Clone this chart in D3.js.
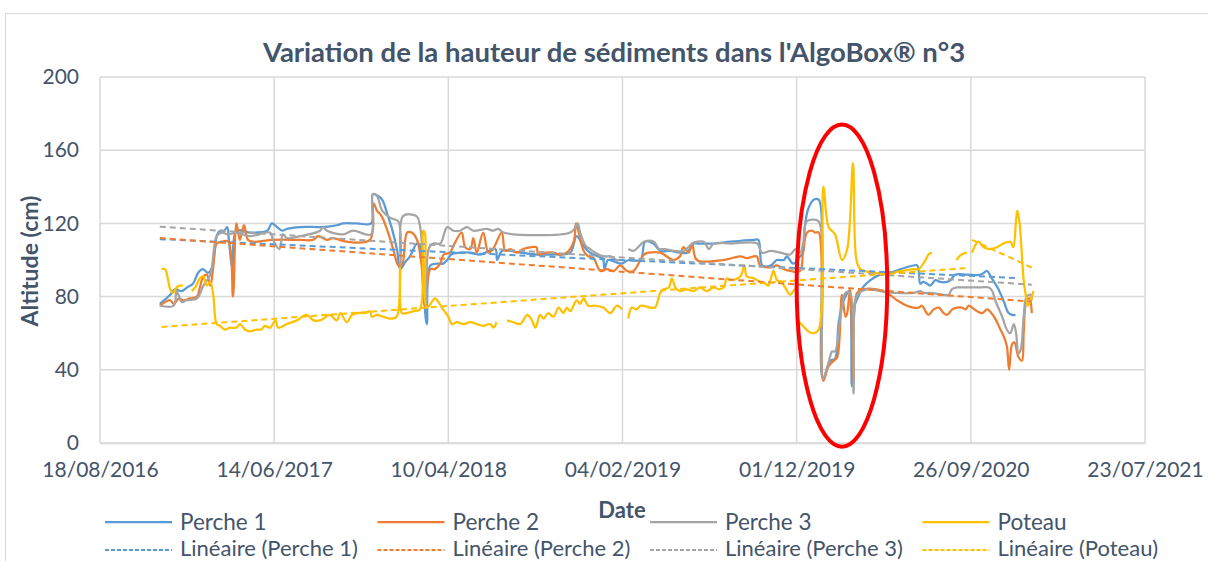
<!DOCTYPE html>
<html>
<head>
<meta charset="utf-8">
<script src="https://cdn.jsdelivr.net/npm/d3@7"></script>
<style>
body{margin:0;background:#fff;}
svg text{font-family:Lato,"Open Sans",sans-serif;fill:#44546A;}
</style>
</head>
<body>
<script>
// dates are Excel serial numbers (days since 30/12/1899), values in cm
var perche1 = [
[42703,76],[42721,81],[42729,84],[42741,83],[42750,85],[42760,87],[42769,93],[42777,95],[42786,93],[42793,96],[42802,114],[42807,116],[42814,116],[42819,118],[42822,111],[42828,95],[42835,116],[42858,115],[42888,116],[42896,120],[42905,118],[42914,116],[42922,117],[42945,118],[42974,118],[42984,118],[43008,119],[43019,120],[43043,120],[43067,120],[43070,136],[43079,135],[43086,133],[43095,125],[43103,117],[43112,105],[43117,95],[43126,99],[43134,102],[43146,109],[43151,108],[43157,83],[43163,65],[43169,97],[43181,98],[43191,98],[43198,100],[43205,103],[43220,104],[43238,104],[43255,103],[43281,106],[43284,100],[43293,105],[43324,104],[43353,103],[43381,103],[43410,104],[43421,113],[43432,108],[43444,104],[43458,102],[43466,101],[43469,95],[43475,100],[43487,99],[43498,98],[43511,100],[43531,100],[43539,110],[43553,109],[43565,105],[43582,105],[43599,104],[43611,104],[43623,109],[43632,109],[43657,109],[43686,110],[43726,111],[43734,111],[43741,97],[43755,97],[43766,100],[43778,100],[43783,102],[43794,98],[43806,102],[43811,104],[43814,118],[43820,128],[43830,133],[43838,133],[43845,35],[43858,45],[43866,46],[43872,65],[43878,75],[43884,80],[43890,83],[43895,31],[43900,75],[43906,80],[43914,85],[43927,89],[43944,92],[43961,93],[43979,95],[44001,97],[44008,97],[44013,87],[44018,88],[44025,87],[44030,86],[44039,89],[44047,88],[44059,88],[44065,89],[44073,92],[44094,92],[44117,92],[44128,94],[44134,91],[44146,85],[44156,78],[44165,71],[44171,70],[44177,70]
];
var perche2 = [
[42703,75],[42721,78],[42727,76],[42736,79],[42743,78],[42755,79],[42767,80],[42772,85],[42778,91],[42784,92],[42790,86],[42795,96],[42801,109],[42810,110],[42821,110],[42829,80],[42835,120],[42841,111],[42848,119],[42855,111],[42864,110],[42898,111],[42945,111],[42967,111],[42976,113],[42991,111],[43001,112],[43025,110],[43065,111],[43071,131],[43077,127],[43085,124],[43094,117],[43105,106],[43114,97],[43120,97],[43129,115],[43137,115],[43146,111],[43154,97],[43160,75],[43169,95],[43177,95],[43186,98],[43192,103],[43203,104],[43209,108],[43223,115],[43229,107],[43238,106],[43243,112],[43249,104],[43260,115],[43269,104],[43277,106],[43292,115],[43298,105],[43307,106],[43318,104],[43329,106],[43344,107],[43352,107],[43355,103],[43370,104],[43381,104],[43393,103],[43404,104],[43416,110],[43420,120],[43424,116],[43433,105],[43441,102],[43450,101],[43462,94],[43473,95],[43485,94],[43496,97],[43508,94],[43519,94],[43531,100],[43537,103],[43545,104],[43565,104],[43588,100],[43599,102],[43605,107],[43614,104],[43620,109],[43628,100],[43674,100],[43703,102],[43714,101],[43731,102],[43737,97],[43755,96],[43766,97],[43778,95],[43789,94],[43806,94],[43811,105],[43818,115],[43826,116],[43832,115],[43838,115],[43846,34],[43855,42],[43864,45],[43870,47],[43878,81],[43884,69],[43887,71],[43892,84],[43898,33],[43904,82],[43915,84],[43938,84],[43956,82],[43973,78],[43990,75],[44001,74],[44010,74],[44016,75],[44022,72],[44027,70],[44036,73],[44045,74],[44053,71],[44059,70],[44068,73],[44076,74],[44085,74],[44091,73],[44096,75],[44102,74],[44111,72],[44120,71],[44128,73],[44140,69],[44151,62],[44157,58],[44162,53],[44166,40],[44171,54],[44175,55],[44182,47],[44188,45],[44191,60],[44196,78],[44201,79],[44205,71]
];
var perche3 = [
[42703,75],[42727,75],[42732,83],[42741,77],[42749,78],[42767,79],[42778,86],[42790,92],[42801,113],[42810,115],[42821,114],[42835,115],[42858,113],[42893,115],[42898,111],[42909,106],[42915,114],[42922,112],[42945,113],[42979,116],[42984,118],[42991,116],[43019,114],[43036,116],[43067,114],[43070,136],[43077,135],[43086,127],[43100,123],[43114,121],[43118,97],[43122,124],[43145,124],[43151,119],[43157,94],[43162,75],[43166,106],[43174,109],[43186,109],[43198,118],[43209,116],[43220,116],[43232,118],[43243,116],[43266,117],[43277,116],[43286,117],[43295,115],[43410,115],[43419,118],[43423,120],[43427,115],[43436,108],[43444,106],[43453,104],[43467,102],[43479,102],[43490,100],[43496,100],[43503,null],[43510,106],[43519,105],[43527,107],[43537,110],[43554,110],[43563,106],[43572,106],[43589,105],[43606,105],[43620,109],[43629,110],[43640,110],[43649,106],[43657,109],[43686,109],[43732,109],[43740,104],[43755,105],[43772,104],[43789,103],[43798,106],[43806,104],[43811,109],[43817,121],[43826,122],[43838,121],[43845,35],[43855,44],[43861,50],[43866,50],[43875,68],[43884,82],[43892,82],[43898,27],[43901,78],[43907,82],[43921,84],[43944,83],[43973,82],[44001,82],[44013,83],[44019,82],[44030,82],[44053,81],[44062,81],[44067,84],[44076,85],[44087,85],[44117,85],[44131,85],[44137,83],[44142,78],[44154,69],[44162,62],[44168,60],[44174,65],[44178,60],[44182,49],[44186,51],[44191,69],[44196,80],[44203,81],[44205,78]
];
var poteau = [
[42706,95],[42712,95],[42721,84],[42726,82],[42732,85],[42738,86],[42743,86],[42750,null],[42758,83],[42764,85],[42772,90],[42778,91],[42784,86],[42790,88],[42795,81],[42801,65],[42807,64],[42815,62],[42824,63],[42835,63],[42841,65],[42850,62],[42858,61],[42870,62],[42878,62],[42884,64],[42893,63],[42902,67],[42907,63],[42922,65],[42939,67],[42956,70],[42968,67],[42979,67],[42985,68],[42996,70],[43008,67],[43014,71],[43025,66],[43034,70],[43045,71],[43057,71],[43065,72],[43068,69],[43077,70],[43088,69],[43100,68],[43111,69],[43117,96],[43120,71],[43128,71],[43140,72],[43151,73],[43157,116],[43160,114],[43163,74],[43177,79],[43183,77],[43191,73],[43200,69],[43206,65],[43215,66],[43226,65],[43238,66],[43249,65],[43260,64],[43272,65],[43278,63],[43283,66],[43292,null],[43301,67],[43312,66],[43324,65],[43336,70],[43344,67],[43350,63],[43358,70],[43364,68],[43372,71],[43381,69],[43390,74],[43398,71],[43404,74],[43410,72],[43421,78],[43427,76],[43433,79],[43441,75],[43453,75],[43467,74],[43479,71],[43490,75],[43499,73],[43505,null],[43510,68],[43516,74],[43524,73],[43531,75],[43548,74],[43556,74],[43565,82],[43571,84],[43580,85],[43585,90],[43591,85],[43599,83],[43611,84],[43622,83],[43634,85],[43645,83],[43657,85],[43666,84],[43674,85],[43680,90],[43686,89],[43703,91],[43710,97],[43714,91],[43726,90],[43737,88],[43746,87],[43751,86],[43760,94],[43766,89],[43774,88],[43780,85],[43789,81],[43797,84],[43803,67],[43811,64],[43820,61],[43829,60],[43838,62],[43846,140],[43855,118],[43866,114],[43878,100],[43887,106],[43897,153],[43903,100],[43910,95],[43933,93],[43961,93],[44001,95],[44010,95],[44022,100],[44027,103],[44033,104],[44050,null],[44075,100],[44084,103],[44093,104]
];
// last stretch of the poteau, which carries its own trend line
var poteau2 = [
[44102,104],[44113,110],[44122,107],[44134,106],[44145,107],[44156,109],[44168,110],[44173,107],[44178,122],[44180,127],[44184,120],[44191,89],[44196,78],[44198,75],[44203,78],[44208,83]
];

var seriesNames = ["Perche 1", "Perche 2", "Perche 3", "Poteau"];
var colors = ["#5B9BD5", "#ED7D31", "#A5A5A5", "#FFC000"];
// "Linéaire" trend lines: value at the first and at the last date of each series
var trendStart = [111.4, 112, 118.2, 63.4, 111];
var trendEnd = [90.2, 77.3, 86.5, 95.6, 95.4];
var xTicks = [42600, 42900, 43200, 43500, 43800, 44100, 44400];
var yTicks = [0, 40, 80, 120, 160, 200];
// red circle drawn on the chart: centre date, centre value, half-width in days, half-height in cm
var highlight = {date: 43878, value: 86, days: 78, cm: 88};

var width = 1208, height = 561;
var svg = d3.select("body").append("svg").attr("width", width).attr("height", height);

// chart frame
svg.append("rect").attr("x", 5.5).attr("y", 13.5).attr("width", 1300).attr("height", 700)
    .attr("fill", "none").attr("stroke", "#D9D9D9").attr("stroke-width", 1);

var x = d3.scaleLinear().domain([42600, 44400]).range([100, 1145]);
var y = d3.scaleLinear().domain([0, 200]).range([443, 77]);

function serialToDate(s){
    return new Date(Date.UTC(1899, 11, 30) + s * 864e5);
}
var fmt = d3.utcFormat("%d/%m/%Y");

// grid
svg.append("g").selectAll("line").data(yTicks).enter().append("line")
    .attr("x1", 100).attr("x2", 1145).attr("y1", d => y(d)).attr("y2", d => y(d))
    .attr("stroke", "#D9D9D9").attr("stroke-width", 1.5);
svg.append("g").selectAll("line").data(xTicks).enter().append("line")
    .attr("x1", d => x(d)).attr("x2", d => x(d)).attr("y1", 77).attr("y2", 443)
    .attr("stroke", "#D9D9D9").attr("stroke-width", 1.5);

// axes
var yAxis = svg.append("g").attr("transform", "translate(100,0)")
    .call(d3.axisLeft(y).tickValues(yTicks).tickSize(0).tickPadding(21));
yAxis.select(".domain").remove();
yAxis.selectAll("text").style("font-size", "21px").attr("fill", "#44546A");

var xAxis = svg.append("g").attr("transform", "translate(0,443)")
    .call(d3.axisBottom(x).tickValues(xTicks).tickSize(0).tickPadding(19)
        .tickFormat(d => fmt(serialToDate(d))));
xAxis.select(".domain").attr("stroke", "#D9D9D9").attr("stroke-width", 1.5);
xAxis.selectAll("text").style("font-size", "21px").attr("fill", "#44546A");

// data lines
var line = d3.line()
    .defined(d => d[1] != null)
    .x(d => x(d[0])).y(d => y(d[1]))
    .curve(d3.curveCatmullRom);

var allSeries = [perche1, perche2, perche3, poteau];
allSeries.forEach(function(s, i){
    svg.append("path").datum(s).attr("d", line)
        .attr("fill", "none").attr("stroke", colors[i]).attr("stroke-width", 2.25)
        .attr("stroke-linejoin", "round");
});
svg.append("path").datum(poteau2).attr("d", line)
    .attr("fill", "none").attr("stroke", colors[3]).attr("stroke-width", 2.25);

// trend lines, spanning the dates of their series
var trendSeries = [perche1, perche2, perche3, poteau, poteau2];
var trendColors = [colors[0], colors[1], colors[2], colors[3], colors[3]];
var straight = d3.line().x(d => x(d[0])).y(d => y(d[1]));
trendSeries.forEach(function(s, i){
    var ext = d3.extent(s, d => d[0]);
    svg.append("path").datum([[ext[0], trendStart[i]], [ext[1], trendEnd[i]]]).attr("d", straight)
        .attr("fill", "none").attr("stroke", trendColors[i]).attr("stroke-width", 2)
        .attr("stroke-dasharray", "6,4");
});

// red ellipse
svg.append("ellipse")
    .attr("cx", x(highlight.date)).attr("cy", y(highlight.value))
    .attr("rx", x(highlight.date + highlight.days) - x(highlight.date))
    .attr("ry", y(0) - y(highlight.cm))
    .attr("fill", "none").attr("stroke", "#FF0000").attr("stroke-width", 4);

// titles
svg.append("text").attr("x", 614).attr("y", 62).attr("text-anchor", "middle")
    .style("font-size", "27.5px").style("font-weight", "bold")
    .text("Variation de la hauteur de sédiments dans l'AlgoBox® n°3");
svg.append("text").attr("x", 622).attr("y", 518).attr("text-anchor", "middle")
    .style("font-size", "22px").style("font-weight", "bold").text("Date");
svg.append("text").attr("transform", "translate(38,261) rotate(-90)").attr("text-anchor", "middle")
    .style("font-size", "23px").style("font-weight", "bold").text("Altitude (cm)");

// legend
var legend = svg.append("g");
seriesNames.forEach(function(name, i){
    var lx = 105 + i * 272.5;
    legend.append("line").attr("x1", lx).attr("x2", lx + 67).attr("y1", 522).attr("y2", 522)
        .attr("stroke", colors[i]).attr("stroke-width", 2.25);
    legend.append("text").attr("x", lx + 75).attr("y", 530).style("font-size", "22.5px").text(name);
    legend.append("line").attr("x1", lx).attr("x2", lx + 67).attr("y1", 550).attr("y2", 550)
        .attr("stroke", colors[i]).attr("stroke-width", 2).attr("stroke-dasharray", "4,2");
    legend.append("text").attr("x", lx + 75).attr("y", 556).style("font-size", "22px")
        .text("Linéaire (" + name + ")");
});
</script>
</body>
</html>
